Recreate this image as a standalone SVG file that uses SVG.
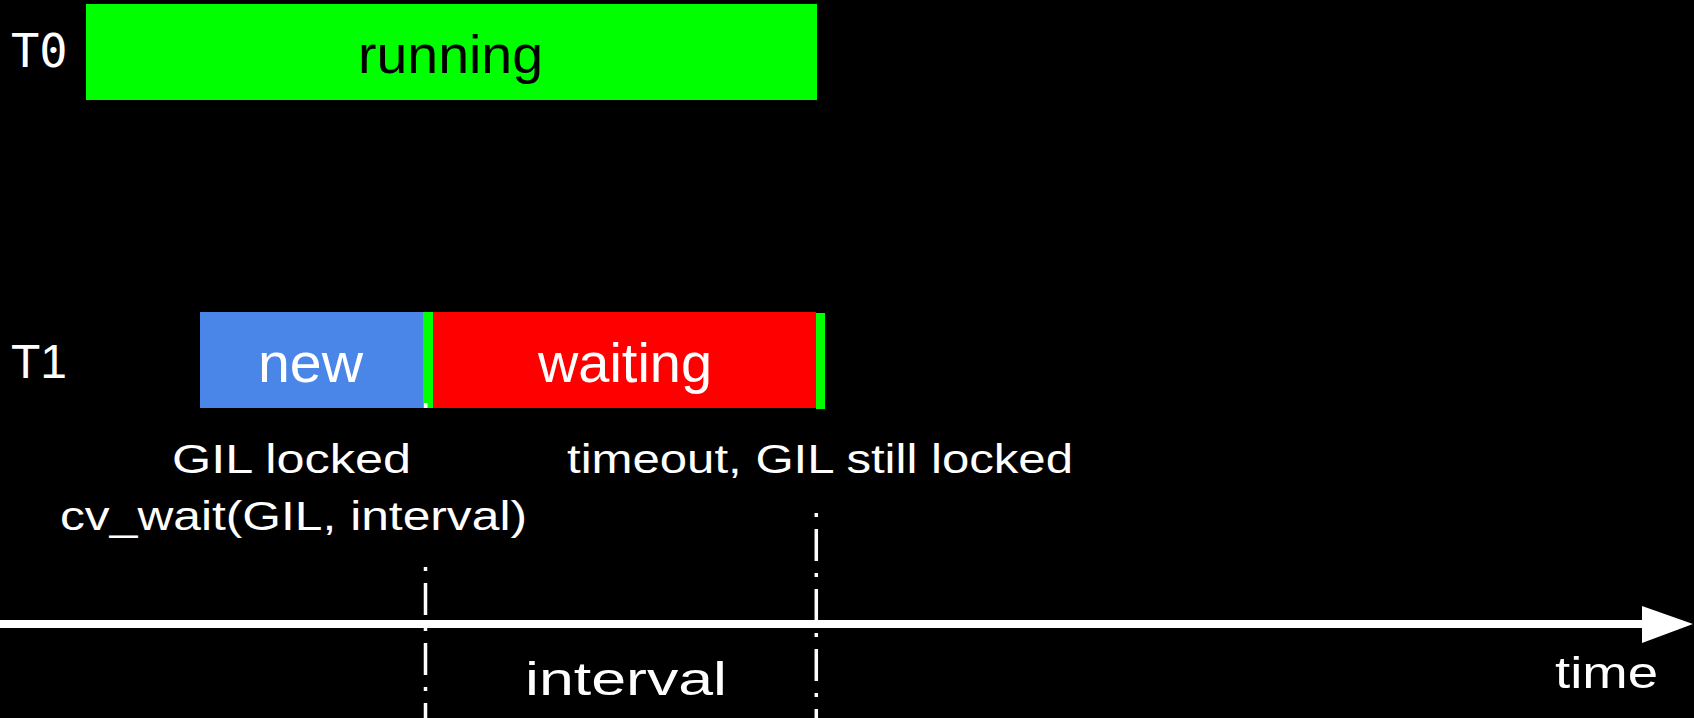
<svg xmlns="http://www.w3.org/2000/svg" width="1694" height="718" viewBox="0 0 1694 718">
<style>
.hand{font-family:"Liberation Sans",Arial,sans-serif;}
.w{fill:#ffffff;}
.dash{stroke:#ffffff;stroke-width:3.5;stroke-dasharray:4 12 32 12;fill:none;}
</style>
<rect x="0" y="0" width="1694" height="718" fill="#000000"/>
<g id="t0-label"><text x="11" y="67" font-family="DejaVu Sans Mono,monospace" font-size="47" class="w">T0</text></g>
<g id="t0-running">
<rect x="86" y="4" width="731" height="96" fill="#00ff00"/>
<text x="358" y="73" class="hand" font-size="54" fill="#000000" textLength="185" lengthAdjust="spacingAndGlyphs">running</text>
</g>
<g id="t1-label"><text x="11" y="378" font-family="Liberation Sans,Arial,sans-serif" font-size="48" class="w">T1</text></g>
<g id="t1-new">
<rect x="200" y="312" width="223.5" height="96" fill="#4a86e8"/>
<text x="258" y="382" class="hand w" font-size="56" textLength="105" lengthAdjust="spacingAndGlyphs">new</text>
</g>
<g id="t1-run1"><rect x="423" y="312" width="10" height="96" fill="#00ff00"/></g>
<g id="t1-waiting">
<rect x="433" y="312" width="383" height="96" fill="#ff0000"/>
<text x="538" y="382" class="hand w" font-size="56" textLength="174" lengthAdjust="spacingAndGlyphs">waiting</text>
</g>
<g id="t1-run2"><rect x="816" y="313" width="9" height="96" fill="#00ff00"/></g>
<g id="label-gil-locked">
<text x="172" y="473" class="hand w" font-size="40" textLength="239" lengthAdjust="spacingAndGlyphs">GIL locked</text>
<text x="60" y="530" class="hand w" font-size="40" textLength="467" lengthAdjust="spacingAndGlyphs">cv_wait(GIL, interval)</text>
</g>
<g id="label-timeout">
<text x="567" y="473" class="hand w" font-size="40" textLength="506" lengthAdjust="spacingAndGlyphs">timeout, GIL still locked</text>
</g>
<g id="label-interval"><text x="525" y="695" class="hand w" font-size="46" textLength="202" lengthAdjust="spacingAndGlyphs">interval</text></g>
<g id="label-time"><text x="1555" y="688" class="hand w" font-size="44" textLength="103" lengthAdjust="spacingAndGlyphs">time</text></g>
<g id="connectors">
<rect x="424" y="403" width="3.5" height="5" fill="#ffffff"/>
<line class="dash" x1="425.5" y1="567" x2="425.5" y2="718"/>
<line class="dash" x1="816.3" y1="513" x2="816.3" y2="718"/>
<line x1="0" y1="624" x2="1648" y2="624" stroke="#ffffff" stroke-width="8"/>
<polygon points="1642,606 1693,624 1642,643" fill="#ffffff"/>
</g>
</svg>
